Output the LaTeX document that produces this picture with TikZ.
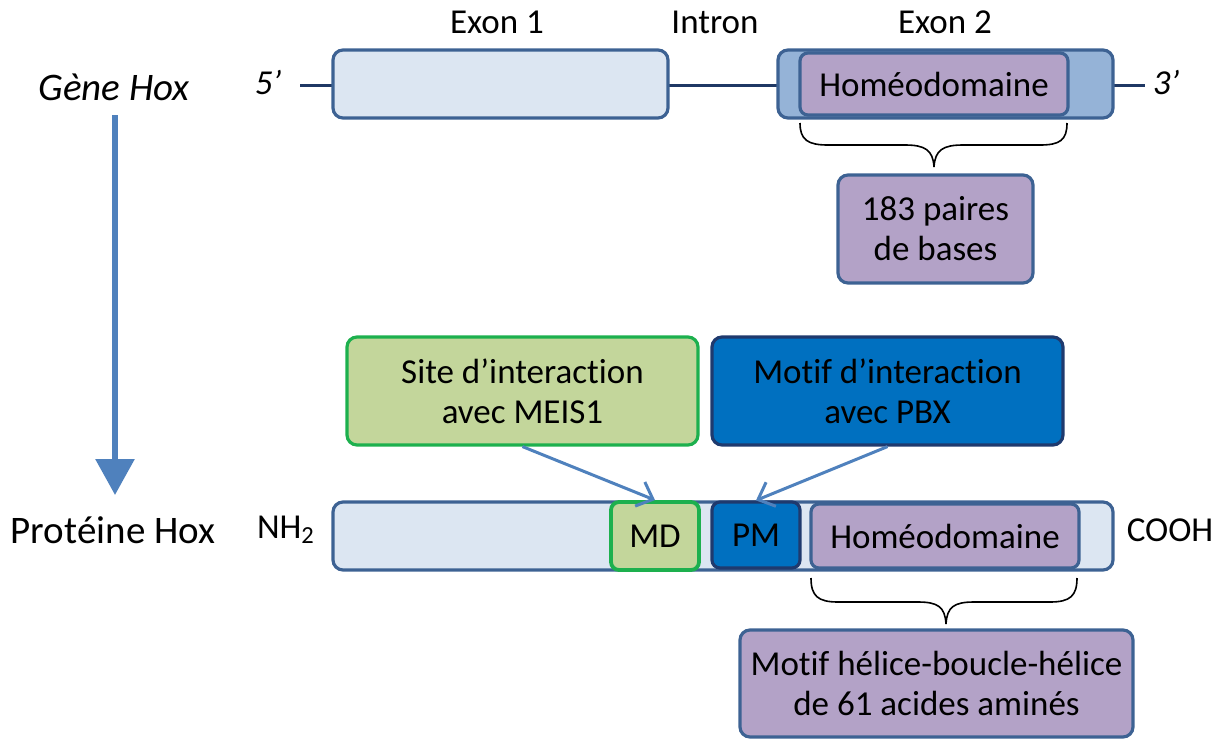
\documentclass[tikz,border=0pt]{standalone}
\usepackage{fontspec}
\setmainfont{Carlito}[Ligatures=NoCommon]
\usetikzlibrary{arrows.meta}

\definecolor{boxline}{HTML}{3D6293}
\definecolor{paleblue}{HTML}{DCE6F2}
\definecolor{midblue}{HTML}{95B3D7}
\definecolor{mauve}{HTML}{B3A2C7}
\definecolor{leaf}{HTML}{C3D69B}
\definecolor{leafline}{HTML}{1DB04E}
\definecolor{deepblue}{HTML}{0070C0}
\definecolor{navy}{HTML}{1F3A6E}
\definecolor{arrowblue}{HTML}{4F81BD}
\definecolor{geneline}{HTML}{1F3864}

\tikzset{
  every node/.style={font=\fontsize{17.5}{20}\selectfont, inner sep=0pt},
  seg/.style={draw=boxline, line width=1.6pt, rounded corners=5pt},
  sidelabel/.style={font=\fontsize{19.5}{22}\selectfont},
  link/.style={draw=arrowblue, line width=1.5pt, -{Straight Barb[length=7pt,width=13pt]}},
  curl/.style={draw=black, line width=0.8pt}
}

\begin{document}
\begin{tikzpicture}[x=0.5pt, y=-0.5pt]
    \useasboundingbox (0,0) rectangle (1222,740);

    % gene
    \coordinate (g5) at (300,85);
    \coordinate (g3) at (1145,85);
    \draw[geneline, line width=1.5pt] (g5) -- (g3);
    \node[seg, fill=paleblue, minimum width=167.5pt, minimum height=34pt] (exon1) at (500.5,84) {};
    \node[seg, fill=midblue, minimum width=167.5pt, minimum height=34pt] (exon2) at (945.5,84) {};
    \node[seg, fill=mauve, minimum width=134pt, minimum height=31pt, rounded corners=4pt] (hd1) at (934,84) {Homéodomaine};
    \node (lexon1) at (497,22) {Exon 1};
    \node (lintron) at (715,22) {Intron};
    \node (lexon2) at (945,22) {Exon 2};
    \node (five) at (268,82) {\itshape 5’};
    \node (three) at (1166,82) {\itshape 3’};
    \node[sidelabel] (gene) at (114,87) {\itshape Gène Hox};

    % brace under the gene homeodomain
    \draw[curl] (800,123) .. controls (800,140) and (808,145) .. (828,145) -- (905,145)
        .. controls (925,145) and (933,150) .. (934,167)
        .. controls (935,150) and (943,145) .. (963,145) -- (1040,145)
        .. controls (1060,145) and (1067,140) .. (1067,123);
    \node[seg, fill=mauve, minimum width=97.5pt, minimum height=54pt, align=center] (bp) at (935.5,229) {183 paires\\de bases};

    % gene to protein
    \draw[arrowblue, line width=3pt, -{Triangle[length=18pt,width=19pt]}] (115,115) -- (115,495);
    \node[sidelabel] (prot) at (113,530) {Protéine Hox};

    % interaction sites
    \node[seg, fill=leaf, draw=leafline, minimum width=175.5pt, minimum height=54pt, align=center] (site) at (522.5,391) {Site d’interaction\\avec MEIS1};
    \node[seg, fill=deepblue, draw=navy, minimum width=175.5pt, minimum height=54pt, align=center] (pbx) at (887.5,391) {Motif d’interaction\\avec PBX};

    % protein
    \node[seg, fill=paleblue, minimum width=390pt, minimum height=34pt] (bar) at (723,536) {};
    \node[seg, fill=leaf, draw=leafline, line width=1.9pt, minimum width=44pt, minimum height=34pt, rounded corners=4pt] (md) at (655,536) {MD};
    \node[seg, fill=deepblue, draw=navy, minimum width=44pt, minimum height=33pt, rounded corners=4pt] (pm) at (756,535) {PM};
    \node[seg, fill=mauve, minimum width=134pt, minimum height=32pt, rounded corners=4pt] (hd2) at (945,536) {Homéodomaine};
    \node (nh) at (286,530) {NH\textsubscript{2}};
    \node (cooh) at (1170,530) {COOH};

    \draw[link] (site.south) -- (md.north);
    \draw[link] (pbx.south) -- (pm.north);

    % brace under the protein homeodomain
    \draw[curl] (811,578) .. controls (811,596) and (818,602) .. (838,602) -- (918,602)
        .. controls (938,602) and (945,607) .. (946,624)
        .. controls (947,607) and (954,602) .. (974,602) -- (1050,602)
        .. controls (1070,602) and (1077,596) .. (1077,578);
    \node[seg, fill=mauve, minimum width=196.5pt, minimum height=53.5pt, align=center] (motif) at (936.5,683.5) {Motif hélice-boucle-hélice\\de 61 acides aminés};
\end{tikzpicture}
\end{document}
